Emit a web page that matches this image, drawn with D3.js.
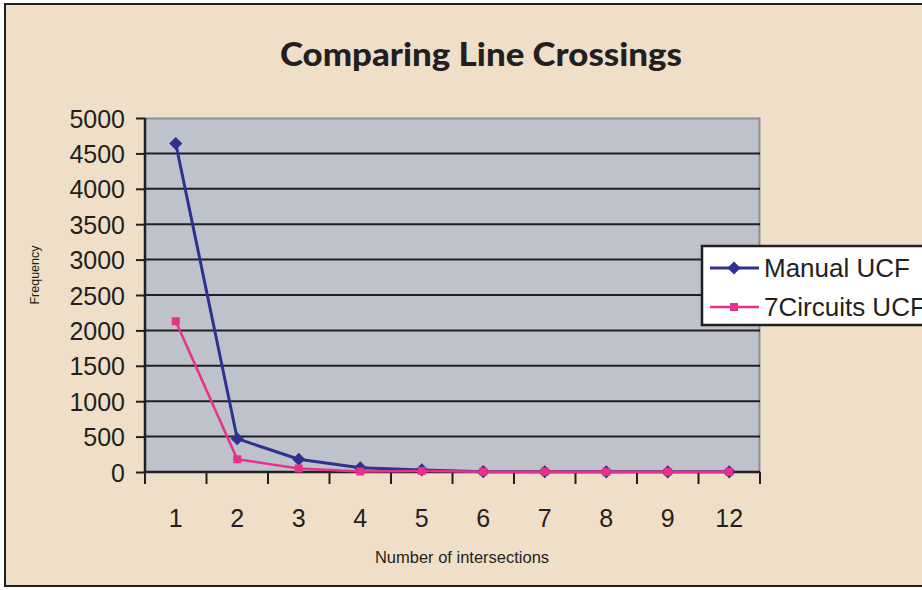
<!DOCTYPE html>
<html>
<head>
<meta charset="utf-8">
<script src="https://cdn.jsdelivr.net/npm/d3@7"></script>
<style>
  body { margin: 0; background: #fff; }
  svg { display: block; }
</style>
</head>
<body>
<div id="chart"></div>
<script>
var categories = ["1", "2", "3", "4", "5", "6", "7", "8", "9", "12"];
var manualUCF = [4640, 470, 180, 60, 30, 5, 3, 2, 2, 2];
var circuitsUCF = [2130, 180, 50, 8, 15, 5, 3, 2, 2, 2];
var yTicks = [0, 500, 1000, 1500, 2000, 2500, 3000, 3500, 4000, 4500, 5000];

var svgWidth = 922;
var svgHeight = 590;

var margin = { top: 118, left: 145, right: 162, bottom: 118 };
var width = svgWidth - margin.left - margin.right;
var height = svgHeight - margin.top - margin.bottom;

var font = "Arial, 'Liberation Sans', sans-serif";

var svg = d3.select("#chart")
  .append("svg")
  .attr("width", svgWidth)
  .attr("height", svgHeight);

// frame
svg.append("rect")
  .attr("x", 5).attr("y", 4)
  .attr("width", 930).attr("height", 582)
  .attr("fill", "#f0dfc8")
  .attr("stroke", "#231f20")
  .attr("stroke-width", 2);

svg.append("text")
  .attr("x", 280).attr("y", 66)
  .attr("font-family", "Lato, sans-serif")
  .attr("font-weight", 900)
  .attr("font-size", 32)
  .attr("textLength", 402)
  .attr("lengthAdjust", "spacingAndGlyphs")
  .attr("fill", "#231f20")
  .text("Comparing Line Crossings");

var chartGroup = svg.append("g")
  .attr("transform", `translate(${margin.left}, ${margin.top})`);

var xScale = d3.scaleBand()
  .domain(categories)
  .range([0, width]);

var yScale = d3.scaleLinear()
  .domain([0, 5000])
  .range([height, 0]);

// plot background
chartGroup.append("rect")
  .attr("width", width).attr("height", height)
  .attr("fill", "#bec2cb");

chartGroup.append("path")
  .attr("d", `M0,0.5H${width - 0.5}V${height}`)
  .attr("fill", "none")
  .attr("stroke", "#8a8e95")
  .attr("stroke-width", 2);

// grid lines
chartGroup.selectAll(".grid")
  .data(yTicks.slice(1, -1))
  .enter().append("line")
  .attr("x1", 0).attr("x2", width)
  .attr("y1", d => yScale(d)).attr("y2", d => yScale(d))
  .attr("stroke", "#231f20")
  .attr("stroke-width", 2);

// y axis
var leftAxis = d3.axisLeft(yScale)
  .tickValues(yTicks)
  .tickFormat(d3.format("d"))
  .tickSize(9)
  .tickPadding(11);
var yAxis = chartGroup.append("g").call(leftAxis);
yAxis.select(".domain").attr("stroke", "#231f20").attr("stroke-width", 2.5)
  .attr("d", `M0,0V${height}`);
yAxis.selectAll(".tick line").attr("stroke", "#231f20").attr("stroke-width", 2);
yAxis.selectAll("text")
  .attr("font-family", font)
  .attr("font-size", 25)
  .attr("dy", "0.36em")
  .attr("fill", "#231f20");

// x axis
var tickPos = d3.range(categories.length + 1).map(i => i * xScale.bandwidth());
var xAxis = chartGroup.append("g").attr("transform", `translate(0, ${height})`);
xAxis.append("line")
  .attr("x1", 0).attr("x2", width)
  .attr("stroke", "#231f20").attr("stroke-width", 2.5);
xAxis.selectAll(".xt")
  .data(tickPos)
  .enter().append("line")
  .attr("x1", d => d).attr("x2", d => d)
  .attr("y1", 0).attr("y2", 12)
  .attr("stroke", "#231f20").attr("stroke-width", 2);
xAxis.selectAll(".xl")
  .data(categories)
  .enter().append("text")
  .attr("x", d => xScale(d) + xScale.bandwidth() / 2)
  .attr("y", 55)
  .attr("text-anchor", "middle")
  .attr("font-family", font)
  .attr("font-size", 25)
  .attr("fill", "#231f20")
  .text(d => d);

// axis titles
svg.append("text")
  .attr("x", 462).attr("y", 563)
  .attr("text-anchor", "middle")
  .attr("font-family", font)
  .attr("font-size", 16.5)
  .attr("fill", "#231f20")
  .text("Number of intersections");

svg.append("text")
  .attr("transform", "translate(39, 275) rotate(-90)")
  .attr("text-anchor", "middle")
  .attr("font-family", font)
  .attr("font-size", 12.5)
  .attr("fill", "#231f20")
  .text("Frequency");

var blue = "#2e3192";
var pink = "#e8318a";

var line = d3.line()
  .x((d, i) => xScale(categories[i]) + xScale.bandwidth() / 2)
  .y(d => yScale(d));

chartGroup.append("path")
  .datum(manualUCF)
  .attr("d", line)
  .attr("fill", "none")
  .attr("stroke", blue)
  .attr("stroke-width", 3);

chartGroup.selectAll(".mpt")
  .data(manualUCF)
  .enter().append("path")
  .attr("d", d3.symbol(d3.symbolDiamond2, 110))
  .attr("transform", (d, i) => `translate(${xScale(categories[i]) + xScale.bandwidth() / 2}, ${yScale(d)})`)
  .attr("fill", blue);

chartGroup.append("path")
  .datum(circuitsUCF)
  .attr("d", line)
  .attr("fill", "none")
  .attr("stroke", pink)
  .attr("stroke-width", 2.5);

chartGroup.selectAll(".cpt")
  .data(circuitsUCF)
  .enter().append("rect")
  .attr("x", (d, i) => xScale(categories[i]) + xScale.bandwidth() / 2 - 4)
  .attr("y", d => yScale(d) - 4)
  .attr("width", 8).attr("height", 8)
  .attr("fill", pink);

// legend
var legend = svg.append("g").attr("transform", "translate(702, 246)");
legend.append("rect")
  .attr("width", 240).attr("height", 79)
  .attr("fill", "#ffffff")
  .attr("stroke", "#231f20")
  .attr("stroke-width", 2.5);

var legendItems = [
  { name: "Manual UCF", color: blue, y: 22 },
  { name: "7Circuits UCF", color: pink, y: 61 }
];
legendItems.forEach(function(item, i) {
  legend.append("line")
    .attr("x1", 8).attr("x2", 57)
    .attr("y1", item.y).attr("y2", item.y)
    .attr("stroke", item.color).attr("stroke-width", i === 0 ? 3 : 2.5);
  if (i === 0) {
    legend.append("path")
      .attr("d", d3.symbol(d3.symbolDiamond2, 110))
      .attr("transform", `translate(32, ${item.y})`)
      .attr("fill", item.color);
  } else {
    legend.append("rect")
      .attr("x", 28).attr("y", item.y - 4)
      .attr("width", 8).attr("height", 8)
      .attr("fill", item.color);
  }
  legend.append("text")
    .attr("x", 62).attr("y", item.y + 9)
    .attr("font-family", font)
    .attr("font-size", 26)
    .attr("fill", "#231f20")
    .text(item.name);
});
</script>
</body>
</html>
